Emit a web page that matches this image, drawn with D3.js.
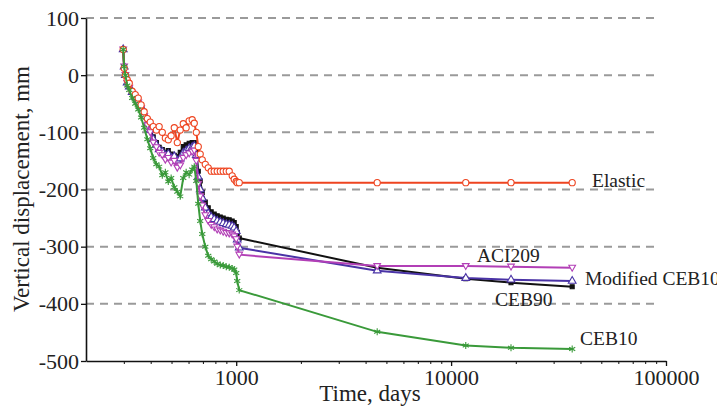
<!DOCTYPE html>
<html>
<head>
<meta charset="utf-8">
<script src="https://cdn.jsdelivr.net/npm/d3@7"></script>
<style>
  html, body { margin: 0; padding: 0; background: #fff; }
  svg { display: block; }
  text { font-family: "Liberation Serif", "Times New Roman", serif; fill: #222; }
</style>
</head>
<body>
<svg id="chart" width="717" height="412"></svg>
<script>
// Monitoring times (days) shared by every series
const days = [298, 301, 305, 311, 318, 328, 339, 350, 361, 373,
  386, 398, 411, 425, 438, 453, 468, 483, 498, 515,
  532, 549, 567, 585, 604, 624, 638, 652, 666, 680,
  695, 718, 741, 765, 790, 816, 843, 870, 899, 928,
  958, 979, 1000, 1011, 1033, 4530, 11700, 19000, 36600];

// Vertical displacement (mm) for each model
const elastic = [45, 12, 0, -8, -14, -28, -34, -40, -52, -64,
  -76, -82, -90, -96, -90, -100, -110, -113, -106, -92,
  -118, -96, -85, -92, -80, -78, -84, -100, -125, -138,
  -148, -156, -162, -168, -168, -168, -168, -168, -168, -168,
  -176, -182, -186, -188, -188, -188, -188, -188, -188];

const ceb90 = [45, 15, 0, -13, -20, -30, -37, -45, -54, -66,
  -82, -94, -108, -118, -126, -130, -135, -132, -138, -140,
  -143, -135, -125, -122, -119, -118, -118, -132, -168, -185,
  -205, -222, -232, -239, -243, -246, -248, -250, -252, -253,
  -255, -258, -265, -275, -285, -337, -356, -363, -370];

const modifiedCeb10 = [45, 15, 0, -13, -20, -30, -38, -46, -55, -68,
  -84, -96, -112, -122, -130, -134, -140, -138, -145, -142,
  -150, -146, -136, -132, -128, -126, -124, -140, -178, -200,
  -215, -232, -242, -248, -252, -255, -257, -259, -261, -262,
  -264, -267, -273, -288, -302, -342, -355, -358, -360];

const aci209 = [45, 15, 0, -14, -22, -32, -40, -48, -58, -72,
  -88, -100, -118, -126, -136, -140, -148, -145, -153, -150,
  -162, -158, -145, -140, -137, -134, -132, -150, -190, -212,
  -228, -245, -255, -262, -266, -270, -272, -274, -276, -277,
  -279, -282, -287, -300, -314, -334, -334, -335, -337];

const ceb10 = [45, 15, 0, -18, -26, -40, -50, -60, -74, -92,
  -112, -128, -145, -156, -160, -175, -170, -186, -180, -196,
  -204, -212, -180, -170, -174, -165, -160, -185, -225, -255,
  -278, -300, -316, -322, -326, -330, -332, -333, -335, -336,
  -338, -340, -346, -360, -376, -449, -473, -477, -479];

// Axis ticks
const xMajorTicks = [1000, 10000, 100000];
const xMinorTicks = [300, 400, 500, 600, 700, 800, 900,
  2000, 3000, 4000, 5000, 6000, 7000, 8000, 9000,
  20000, 30000, 40000, 50000, 60000, 70000, 80000, 90000];
const yTicks = [100, 0, -100, -200, -300, -400, -500];

const svg = d3.select("#chart");

const x = d3.scaleLog().domain([200, 100000]).range([86, 666]);
const y = d3.scaleLinear().domain([-500, 100]).range([361, 18]);

// Dashed horizontal grid
svg.append("g")
  .selectAll("line")
  .data(yTicks.filter(d => d > -500))
  .join("line")
  .attr("x1", x(200)).attr("x2", 660)
  .attr("y1", d => y(d)).attr("y2", d => y(d))
  .attr("stroke", "#9a9a9a")
  .attr("stroke-width", 2)
  .attr("stroke-dasharray", "8,6");

// Series definitions
const symInvTri = {
  draw(ctx, size) {
    const h = Math.sqrt(size * 1.3);
    ctx.moveTo(0, h * 0.6);
    ctx.lineTo(-h * 0.6, -h * 0.45);
    ctx.lineTo(h * 0.6, -h * 0.45);
    ctx.closePath();
  }
};
const starSym = d3.symbolAsterisk || d3.symbolCross;

const series = [
  { name: "CEB90", values: ceb90, color: "#111111", sym: d3.symbolSquare, size: 16, fill: "#111111" },
  { name: "Modified CEB10", values: modifiedCeb10, color: "#4a33a6", sym: d3.symbolTriangle, size: 26, fill: "#ffffff" },
  { name: "ACI209", values: aci209, color: "#b23fb6", sym: symInvTri, size: 24, fill: "#ffffff" },
  { name: "Elastic", values: elastic, color: "#ee4420", sym: d3.symbolCircle, size: 30, fill: "#ffffff" },
  { name: "CEB10", values: ceb10, color: "#3a9a3a", sym: starSym, size: 34, fill: "none" }
];

const line = d3.line()
  .x(d => x(d[0]))
  .y(d => y(d[1]));

series.forEach(s => {
  const pts = days.map((t, i) => [t, s.values[i]]);
  const g = svg.append("g");
  g.append("path")
    .datum(pts)
    .attr("d", line)
    .attr("fill", "none")
    .attr("stroke", s.color)
    .attr("stroke-width", 2);
  g.selectAll("path.m")
    .data(pts)
    .join("path")
    .attr("class", "m")
    .attr("transform", d => `translate(${x(d[0])},${y(d[1])})`)
    .attr("d", d3.symbol().type(s.sym).size(s.size))
    .attr("fill", s.fill)
    .attr("stroke", s.color)
    .attr("stroke-width", 1.1);
});

// Axes
const xAxis = svg.append("g")
  .attr("transform", `translate(0,${y(-500)})`)
  .call(d3.axisBottom(x).tickValues(xMajorTicks).tickFormat(d => String(d))
    .tickSize(5).tickSizeOuter(0).tickPadding(3));
svg.append("g")
  .attr("transform", `translate(0,${y(-500)})`)
  .call(d3.axisBottom(x).tickValues(xMinorTicks).tickFormat(() => "")
    .tickSize(3).tickSizeOuter(0))
  .select(".domain").remove();

const yAxis = svg.append("g")
  .attr("transform", `translate(${x(200)},0)`)
  .call(d3.axisLeft(y).tickValues(yTicks).tickFormat(d => String(d))
    .tickSize(5).tickSizeOuter(0).tickPadding(2));

[xAxis, yAxis].forEach(a => {
  a.select(".domain").attr("stroke", "#111").attr("stroke-width", 1.6);
  a.selectAll(".tick line").attr("stroke", "#111").attr("stroke-width", 1.3);
  a.selectAll(".tick text")
    .attr("font-family", "Liberation Serif, Times New Roman, serif")
    .attr("font-size", 22).attr("fill", "#222");
});
svg.selectAll(".tick line").attr("stroke", "#111");

// Axis titles
svg.append("text")
  .attr("x", 370).attr("y", 401)
  .attr("text-anchor", "middle")
  .attr("font-size", 23)
  .text("Time, days");

svg.append("text")
  .attr("transform", "translate(29,189) rotate(-90)")
  .attr("text-anchor", "middle")
  .attr("font-size", 23)
  .text("Vertical displacement, mm");

// Series labels
const labels = [
  { text: "Elastic", x: 592, y: 187 },
  { text: "ACI209", x: 477, y: 262 },
  { text: "Modified CEB10", x: 585, y: 285 },
  { text: "CEB90", x: 495, y: 306 },
  { text: "CEB10", x: 580, y: 345 }
];
svg.append("g")
  .selectAll("text")
  .data(labels)
  .join("text")
  .attr("x", d => d.x).attr("y", d => d.y)
  .attr("font-size", 19.5)
  .text(d => d.text);
</script>
</body>
</html>
